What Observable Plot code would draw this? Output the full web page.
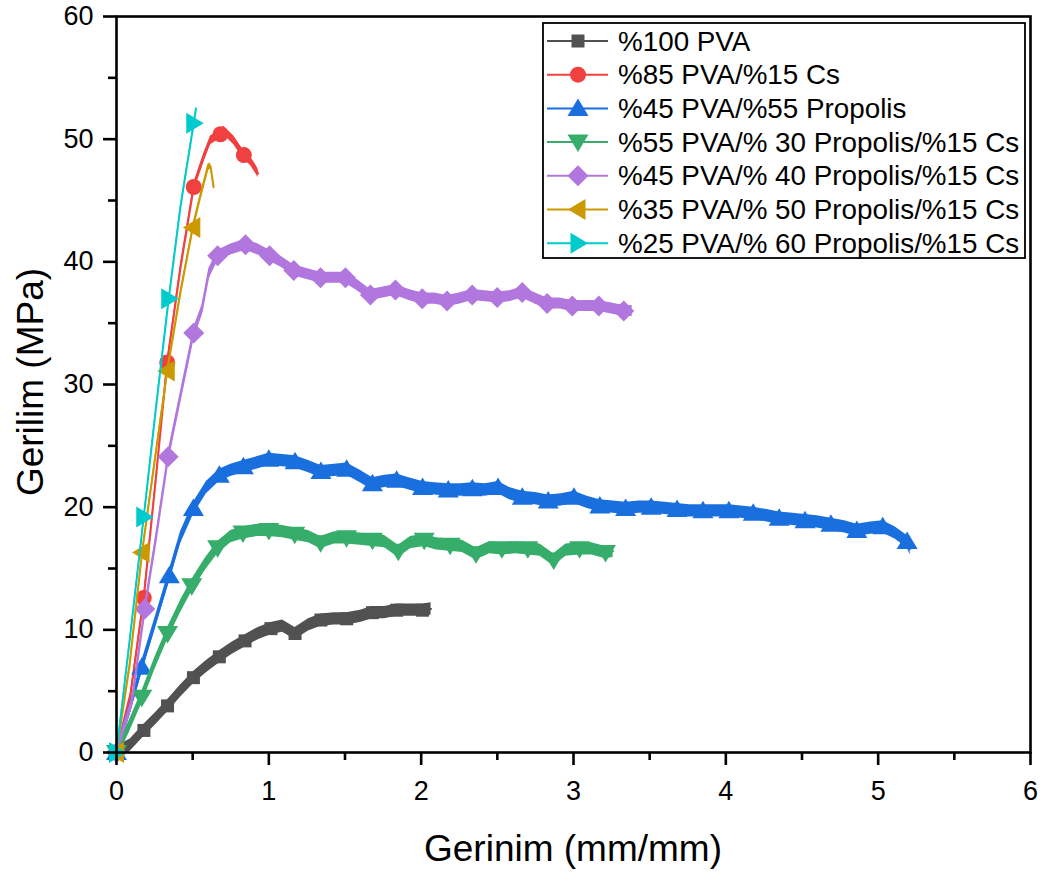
<!DOCTYPE html>
<html>
<head>
<meta charset="utf-8">
<script src="https://cdn.jsdelivr.net/npm/d3@7"></script>
<script src="https://cdn.jsdelivr.net/npm/@observablehq/plot@0.6"></script>
<style>
  html, body { margin: 0; padding: 0; background: #ffffff; }
  #chart { position: relative; width: 1045px; height: 874px; }
</style>
</head>
<body>
<div id="chart"></div>
<script>
// ---------------- Data ----------------
const seriesNames = [
  "%100 PVA",
  "%85 PVA/%15 Cs",
  "%45 PVA/%55 Propolis",
  "%55 PVA/% 30 Propolis/%15 Cs",
  "%45 PVA/% 40 Propolis/%15 Cs",
  "%35 PVA/% 50 Propolis/%15 Cs",
  "%25 PVA/% 60 Propolis/%15 Cs"
];

const xTicks = [0, 1, 2, 3, 4, 5, 6];
const xMinorTicks = [0.5, 1.5, 2.5, 3.5, 4.5, 5.5];
const yTicks = [0, 10, 20, 30, 40, 50, 60];
const yMinorTicks = [5, 15, 25, 35, 45, 55];

// [strain (mm/mm), stress (MPa)] at marker positions
const grayMarkers = [[0,0],[0.18,1.8],[0.335,3.8],[0.505,6.1],[0.675,7.8],[0.844,9.1],[1.014,10.1],[1.172,9.7],[1.342,10.8],[1.511,10.9],[1.68,11.4],[1.839,11.6],[2.009,11.6]];
const grayExtra = [[0.09,0.6],[0.26,2.8],[0.42,5.0],[0.59,7.0],[0.76,8.5],[0.93,9.7],[1.09,10.3],[1.26,10.4],[1.43,10.9],[1.6,11.1],[1.76,11.4],[1.92,11.6],[2.065,11.7]];

const redMarkers = [[0,0],[0.179,12.6],[0.333,31.8],[0.507,46.1],[0.683,50.4],[0.836,48.7]];
const redExtra = [[0.09,4.5],[0.26,22.5],[0.42,39.5],[0.573,48.5],[0.617,49.9],[0.704,50.7],[0.77,49.9],[0.88,48.2],[0.912,47.6],[0.93,47.2]];

const blueMarkers = [[0,0],[0.166,6.95],[0.347,14.4],[0.505,19.9],[0.675,22.6],[0.833,23.3],[1.0,23.9],[1.172,23.7],[1.342,22.9],[1.511,23.1],[1.68,21.9],[1.839,22.2],[2.009,21.6],[2.178,21.4],[2.336,21.5],[2.505,21.6],[2.664,20.8],[2.834,20.5],[3.003,20.8],[3.173,20.1],[3.342,19.9],[3.51,20.0],[3.68,19.8],[3.85,19.7],[4.02,19.7],[4.18,19.5],[4.35,19.1],[4.52,18.9],[4.69,18.6],[4.86,18.1],[5.03,18.4],[5.19,17.2]];
const blueExtra = [[0.08,3.2],[0.26,10.8],[0.42,17.5],[0.59,21.6],[0.75,23.0],[0.92,23.6],[1.09,23.8],[1.26,23.3],[1.43,23.0],[1.6,22.5],[1.76,22.1],[1.92,21.9],[2.09,21.5],[2.26,21.4],[2.42,21.4],[2.58,21.1],[2.75,20.7],[2.92,20.6],[3.09,20.4],[3.26,20.0],[3.43,20.0],[3.6,19.9],[3.76,19.7],[3.93,19.7],[4.1,19.6],[4.27,19.3],[4.44,19.0],[4.6,18.8],[4.78,18.4],[4.95,18.3],[5.11,17.9],[5.21,16.6]];

const greenMarkers = [[0,0],[0.166,4.5],[0.335,9.7],[0.494,13.6],[0.664,16.7],[0.83,17.9],[1.0,18.1],[1.17,17.8],[1.34,17.1],[1.51,17.5],[1.68,17.3],[1.85,16.4],[2.02,17.3],[2.19,16.9],[2.36,16.2],[2.53,16.6],[2.70,16.6],[2.87,15.7],[3.04,16.6],[3.21,16.3]];
const greenExtra = [[0.08,2.0],[0.25,7.2],[0.42,11.9],[0.58,15.3],[0.75,17.6],[0.92,18.1],[1.09,18.0],[1.26,17.6],[1.43,17.5],[1.6,17.4],[1.76,17.2],[1.93,17.1],[2.1,17.0],[2.27,16.8],[2.45,16.7],[2.62,16.7],[2.78,16.5],[2.95,16.5],[3.12,16.6],[3.26,16.4]];

const violetMarkers = [[0,0],[0.186,11.7],[0.339,24.1],[0.507,34.2],[0.664,40.5],[0.847,41.4],[1.005,40.5],[1.164,39.3],[1.339,38.7],[1.503,38.7],[1.667,37.3],[1.831,37.7],[2.007,37.0],[2.17,36.8],[2.335,37.3],[2.499,37.1],[2.663,37.5],[2.827,36.6],[2.992,36.4],[3.166,36.4],[3.33,36.0]];
const violetExtra = [[0.1,4.0],[0.26,17.5],[0.42,29.0],[0.56,36.0],[0.606,39.0],[0.75,41.0],[0.93,41.0],[1.08,40.0],[1.25,39.0],[1.42,38.7],[1.58,38.1],[1.75,37.5],[1.92,37.3],[2.09,37.0],[2.25,37.0],[2.42,37.2],[2.58,37.2],[2.75,37.0],[2.91,36.6],[3.08,36.4],[3.25,36.2],[3.385,36.0]];

const goldMarkers = [[0,0],[0.168,16.3],[0.333,31.1],[0.501,42.8]];
const goldExtra = [[0.085,7.0],[0.25,23.7],[0.42,37.5],[0.54,44.8],[0.573,46.4],[0.6,47.7],[0.617,47.8],[0.638,46.1]];

const cyanMarkers = [[0,0],[0.179,19.2],[0.343,37.0],[0.507,51.3]];
const cyanExtra = [[0.09,9.5],[0.26,28.2],[0.42,44.5],[0.522,52.5]];

// noise band half-height (MPa) of each raw signal
const noiseAmp = [0.5, 0.35, 0.5, 0.5, 0.45, 0.25, 0.15];

// ---------------- Styles ----------------
const colors = ["#515151", "#F14040", "#1A6FDF", "#37AD6B", "#B177DE", "#CC9900", "#00CBCC"];

const symSquare = { draw(c) { const h = 6.5; c.moveTo(-h, -h); c.lineTo(h, -h); c.lineTo(h, h); c.lineTo(-h, h); c.closePath(); } };
const symCircle = { draw(c) { const r = 8; c.moveTo(r, 0); c.arc(0, 0, r, 0, 2 * Math.PI); c.closePath(); } };
const symTriUp = { draw(c) { c.moveTo(0, -10); c.lineTo(10.5, 7.5); c.lineTo(-10.5, 7.5); c.closePath(); } };
const symTriDown = { draw(c) { c.moveTo(0, 10); c.lineTo(10.5, -7.5); c.lineTo(-10.5, -7.5); c.closePath(); } };
const symDiamond = { draw(c) { c.moveTo(0, -10.5); c.lineTo(10.5, 0); c.lineTo(0, 10.5); c.lineTo(-10.5, 0); c.closePath(); } };
const symTriLeft = { draw(c) { c.moveTo(-10, 0); c.lineTo(7.5, -10.5); c.lineTo(7.5, 10.5); c.closePath(); } };
const symTriRight = { draw(c) { c.moveTo(10, 0); c.lineTo(-7.5, -10.5); c.lineTo(-7.5, 10.5); c.closePath(); } };
const symbols = [symSquare, symCircle, symTriUp, symTriDown, symDiamond, symTriLeft, symTriRight];

const markerSets = [grayMarkers, redMarkers, blueMarkers, greenMarkers, violetMarkers, goldMarkers, cyanMarkers];
const extraSets = [grayExtra, redExtra, blueExtra, greenExtra, violetExtra, goldExtra, cyanExtra];

const FONT = "'Liberation Sans', Arial, Helvetica, sans-serif";

// ---------------- Marks ----------------
const marks = [];
seriesNames.forEach((name, i) => {
  const linePts = [...markerSets[i], ...extraSets[i]].sort((a, b) => a[0] - b[0]);
  const n = noiseAmp[i];
  marks.push(Plot.areaY(linePts, { x: d => d[0], y1: d => d[1] - n, y2: d => d[1] + n, fill: colors[i] }));
  marks.push(Plot.line(linePts, { x: d => d[0], y: d => d[1], stroke: colors[i], strokeWidth: 2 }));
  marks.push(Plot.dot(markerSets[i], { x: d => d[0], y: d => d[1], r: 1, symbol: symbols[i], fill: colors[i], stroke: "none" }));
});

marks.push(Plot.frame({ stroke: "#000", strokeWidth: 2.6 }));
marks.push(Plot.axisX({ ticks: xTicks, tickSize: 13, tickPadding: 15, strokeWidth: 2.6, fontSize: 27, label: null, tickFormat: d => String(d) }));
marks.push(Plot.axisX({ ticks: xMinorTicks, tickSize: 8, strokeWidth: 2.6, label: null, tickFormat: () => "" }));
marks.push(Plot.axisY({ ticks: yTicks, tickSize: 13, tickPadding: 10, strokeWidth: 2.6, fontSize: 27, label: null, tickFormat: d => String(d) }));
marks.push(Plot.axisY({ ticks: yMinorTicks, tickSize: 8, strokeWidth: 2.6, label: null, tickFormat: () => "" }));

const chart = Plot.plot({
  width: 1045,
  height: 874,
  marginLeft: 116,
  marginRight: 15,
  marginTop: 16,
  marginBottom: 122,
  x: { domain: [0, 6] },
  y: { domain: [0, 60] },
  style: { fontFamily: FONT, background: "#ffffff", color: "#000", overflow: "visible" },
  marks
});

const svg = d3.select(chart);

// Axis titles
svg.append("text")
  .attr("x", 573).attr("y", 861)
  .attr("text-anchor", "middle")
  .attr("font-family", FONT).attr("font-size", 37).attr("fill", "#000")
  .text("Gerinim (mm/mm)");
svg.append("text")
  .attr("transform", "translate(43,382) rotate(-90)")
  .attr("text-anchor", "middle")
  .attr("font-family", FONT).attr("font-size", 37).attr("fill", "#000")
  .text("Gerilim (MPa)");

// Legend
const lg = svg.append("g").attr("text-anchor", "start");
lg.append("rect")
  .attr("x", 543).attr("y", 23).attr("width", 482).attr("height", 235)
  .attr("fill", "#fff").attr("stroke", "#000").attr("stroke-width", 1.8);
seriesNames.forEach((name, i) => {
  const cy = 41 + i * 33.7;
  lg.append("line").attr("x1", 547).attr("x2", 608).attr("y1", cy).attr("y2", cy)
    .attr("stroke", colors[i]).attr("stroke-width", 2);
  lg.append("path").attr("d", d3.symbol().type(symbols[i])())
    .attr("transform", `translate(578,${cy})`).attr("fill", colors[i]);
  lg.append("text").attr("x", 618).attr("y", cy + 9.5)
    .attr("text-anchor", "start")
    .attr("font-family", FONT).attr("font-size", 27.8).attr("fill", "#000")
    .text(name);
});

document.getElementById("chart").appendChild(chart);
</script>
</body>
</html>
